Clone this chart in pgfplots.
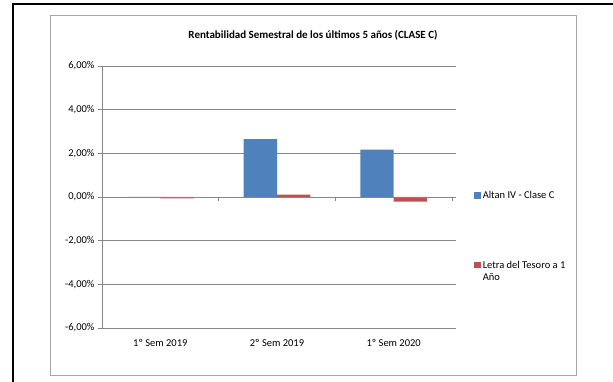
\documentclass[border=0pt]{standalone}
\usepackage{pgfplots}
\pgfplotsset{compat=1.18}
\usepackage{fontspec}
\setmainfont{Carlito}
\definecolor{serA}{HTML}{4F81BD}
\definecolor{serB}{HTML}{C0504D}
\definecolor{gridc}{HTML}{868686}
\definecolor{boxc}{HTML}{A6A6A6}
\newcommand{\legB}{\begin{tabular}[t]{@{}l@{}}Letra del Tesoro a 1\\[-1pt]Año\end{tabular}}
\begin{document}
\begin{tikzpicture}
\useasboundingbox (0pt,0pt) rectangle (613pt,381pt);
\fill[white] (0pt,0pt) rectangle (613pt,381pt);
\draw[black, line width=1.6pt] (13pt,-2pt) -- (13pt,377pt) -- (615pt,377pt);
\draw[boxc, line width=1pt] (50pt,6pt) rectangle (576pt,365pt);
\node[font=\fontsize{11}{13}\selectfont\bfseries] at (313pt,346pt) {Rentabilidad Semestral de los últimos 5 años (CLASE C)};
\begin{axis}[
  at={(102pt,53pt)}, anchor=south west,
  scale only axis, width=350pt, height=262pt,
  xmin=-0.5, xmax=2.5, ymin=-6, ymax=6,
  ybar, bar width=33.3pt,
  xtick={0,1,2},
  xticklabels={1º Sem 2019, 2º Sem 2019, 1º Sem 2020},
  x tick style={draw=none},
  xticklabel style={font=\fontsize{10.5}{12}\selectfont, yshift=-4pt},
  ytick={-6,-4,-2,0,2,4,6},
  yticklabels={{-6,00\%},{-4,00\%},{-2,00\%},{0,00\%},{2,00\%},{4,00\%},{6,00\%}},
  yticklabel style={font=\fontsize{10.5}{12}\selectfont},
  y tick style={gridc, line width=0.8pt},
  tick align=outside, major tick length=4pt,
  ymajorgrids, grid style={gridc, line width=0.8pt},
  axis line style={draw=none},
  clip=false,
  legend style={at={(1.063,0.53)}, anchor=north west, draw=none, fill=none,
    font=\fontsize{10.5}{12.5}\selectfont, row sep=56pt, inner sep=0pt,
    cells={anchor=west}},
  legend cell align=left,
  legend image code/.code={\fill[#1] (0pt,-3pt) rectangle (6.5pt,3.5pt);},
]
\addplot[fill=serA, draw=none, bar shift=-16.65pt] coordinates {(0,0) (1,2.65) (2,2.17)};
\addlegendentry{Altan IV - Clase C}
\addplot[fill=serB, draw=none, bar shift=16.65pt] coordinates {(0,-0.06) (1,0.11) (2,-0.21)};
\addlegendentry{\legB}
\draw[gridc, line width=0.8pt] (axis cs:-0.5,-6) -- (axis cs:-0.5,6);
\draw[gridc, line width=0.8pt] (axis cs:-0.5,0) -- (axis cs:2.5,0);
\draw[gridc, line width=0.8pt] (axis cs:0.5,0) -- (axis cs:0.5,-0.18);
\draw[gridc, line width=0.8pt] (axis cs:1.5,0) -- (axis cs:1.5,-0.18);
\draw[gridc, line width=0.8pt] (axis cs:2.5,0) -- (axis cs:2.5,-0.18);
\end{axis}
\end{tikzpicture}
\end{document}
